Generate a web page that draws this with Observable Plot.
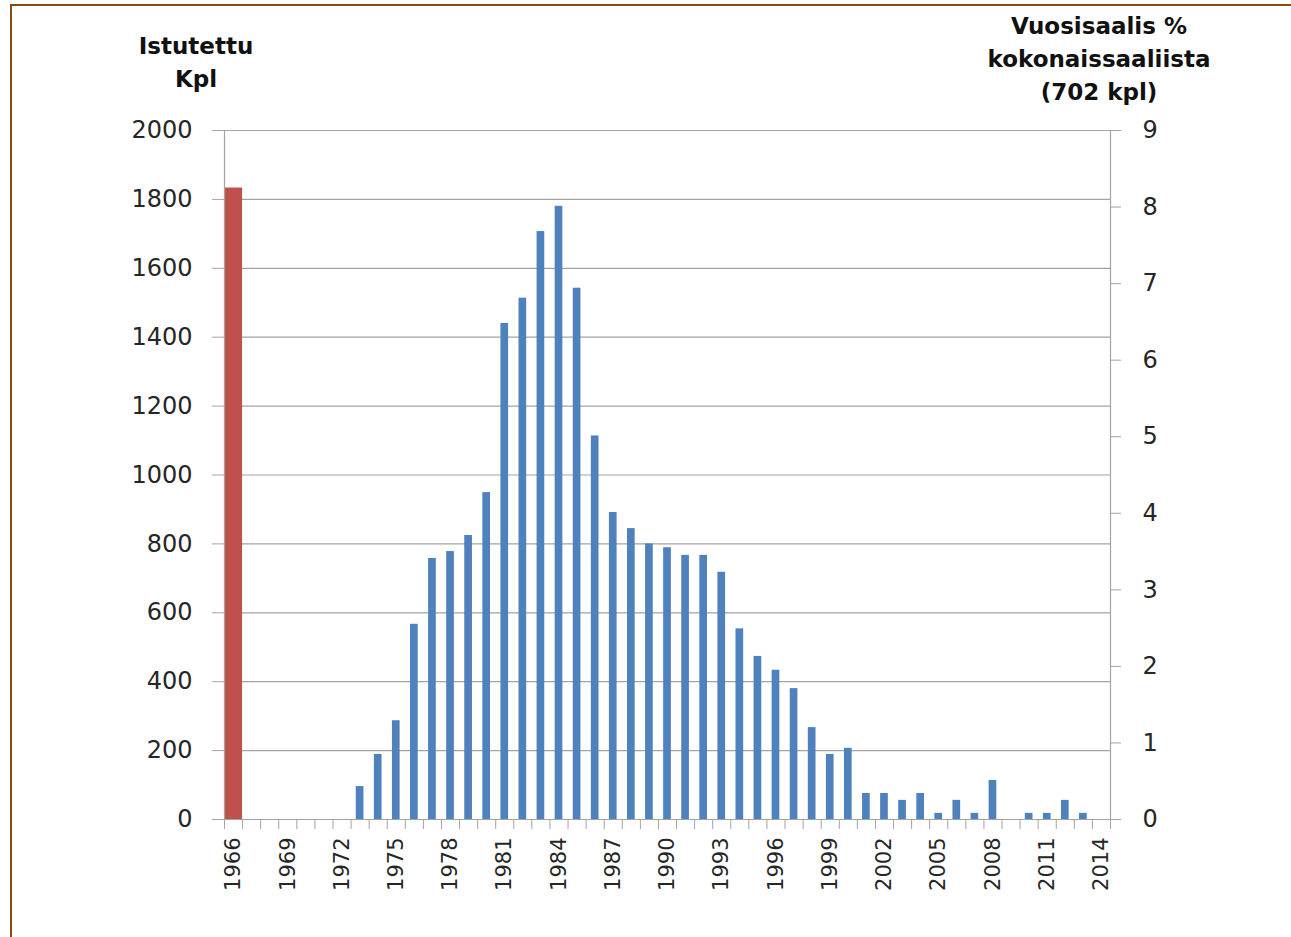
<!DOCTYPE html>
<html>
<head>
<meta charset="utf-8">
<script src="https://cdn.jsdelivr.net/npm/d3@7"></script>
<script src="https://cdn.jsdelivr.net/npm/@observablehq/plot@0.6"></script>
<style>
  html, body { margin: 0; padding: 0; background: #fff; }
  #wrap { position: relative; width: 1291px; height: 937px; overflow: hidden; background: #fff; }
  #frame { position: absolute; left: 10px; top: 4px; width: 1400px; height: 1100px; border-left: 2.5px solid #8B4A0E; border-top: 2.5px solid #8B4A0E; pointer-events: none; }
  .ttl { position: absolute; font-family: "DejaVu Sans", sans-serif; font-weight: bold; font-size: 23px; line-height: 33px; color: #111; text-align: center; white-space: nowrap; }
  #ttlL { left: 96px; width: 200px; top: 30px; }
  #ttlR { left: 949px; width: 300px; top: 10px; }
  #chart { position: absolute; left: 0; top: 0; }
</style>
</head>
<body>
<div id="wrap">
  <div id="chart"></div>
  <div class="ttl" id="ttlL">Istutettu<br>Kpl</div>
  <div class="ttl" id="ttlR">Vuosisaalis %<br>kokonaissaaliista<br>(702 kpl)</div>
  <div id="frame"></div>
</div>
<script>
// Years (categories)
const years = [1966,1967,1968,1969,1970,1971,1972,1973,1974,1975,1976,1977,1978,1979,1980,
  1981,1982,1983,1984,1985,1986,1987,1988,1989,1990,1991,1992,1993,1994,1995,1996,1997,
  1998,1999,2000,2001,2002,2003,2004,2005,2006,2007,2008,2009,2010,2011,2012,2013,2014];
// Vuosisaalis % kokonaissaaliista (right axis)
const catchPct = [0,0,0,0,0,0,0,0.43,0.85,1.29,2.55,3.41,3.50,3.71,4.27,
  6.48,6.81,7.68,8.01,6.94,5.01,4.01,3.80,3.60,3.55,3.45,3.45,3.23,2.49,2.13,1.95,1.71,
  1.20,0.85,0.93,0.34,0.34,0.25,0.34,0.08,0.25,0.08,0.51,0,0.08,0.08,0.25,0.08,0];
// Istutettu kpl (left axis)
const stockedYears = [1966];
const stockedCount = [1833];
// Tick labels
const leftTicks = [0,200,400,600,800,1000,1200,1400,1600,1800,2000];
const rightTicks = [0,1,2,3,4,5,6,7,8,9];
const labelYears = [1966,1969,1972,1975,1978,1981,1984,1987,1990,1993,1996,1999,2002,2005,2008,2011,2014];

const leftMax = 2000, rightMax = 9;
const k = leftMax / rightMax; // percent -> left-axis units

const blue = years.map((y, i) => ({year: y, pct: catchPct[i]})).filter(d => d.pct > 0);
const red = stockedYears.map((y, i) => ({year: y, count: stockedCount[i]}));
const bounds = years.map(y => y - 0.5).concat([years[years.length - 1] + 0.5]);

const lineColor = "#a3a3a3";
const textColor = "#262626";

const chart = Plot.plot({
  width: 1291,
  height: 937,
  marginLeft: 224,
  marginRight: 181,
  marginTop: 130,
  marginBottom: 118,
  style: {fontFamily: "DejaVu Sans, sans-serif", fontSize: "24px", background: "transparent", overflow: "visible"},
  x: {type: "linear", domain: [years[0] - 0.5, years[years.length - 1] + 0.5]},
  y: {domain: [0, leftMax]},
  marks: [
    Plot.gridY(leftTicks.filter(t => t > 0), {stroke: lineColor, strokeOpacity: 1, strokeWidth: 1.2}),
    Plot.rectY(red, {x1: d => d.year - 0.5, x2: d => d.year + 0.5, y: "count", fill: "#C0504D"}),
    Plot.rectY(blue, {x1: d => d.year - 0.5, x2: d => d.year + 0.5, y: d => d.pct * k, fill: "#4F81BD", insetLeft: 5.2, insetRight: 5.2}),
    Plot.ruleY([0], {stroke: lineColor, strokeWidth: 1.2}),
    Plot.ruleX([bounds[0], bounds[bounds.length - 1]], {stroke: lineColor, strokeWidth: 1.2}),
    Plot.axisY({anchor: "left", ticks: leftTicks, tickSize: 12, tickPadding: 20, tickFormat: d => String(d), stroke: lineColor, color: textColor, label: null}),
    Plot.axisY({anchor: "right", ticks: rightTicks.map(t => t * k), tickSize: 10, tickPadding: 22, tickFormat: d => String(Math.round(d / k)), stroke: lineColor, color: textColor, label: null}),
    Plot.axisX({ticks: bounds, tickSize: 10, tickFormat: () => "", stroke: lineColor, label: null}),
    Plot.axisX({ticks: labelYears, tickSize: 0, tickPadding: 18, tickRotate: -90, tickFormat: d => String(d), fontSize: 21, color: textColor, label: null})
  ]
});
document.getElementById("chart").appendChild(chart);
</script>
</body>
</html>
